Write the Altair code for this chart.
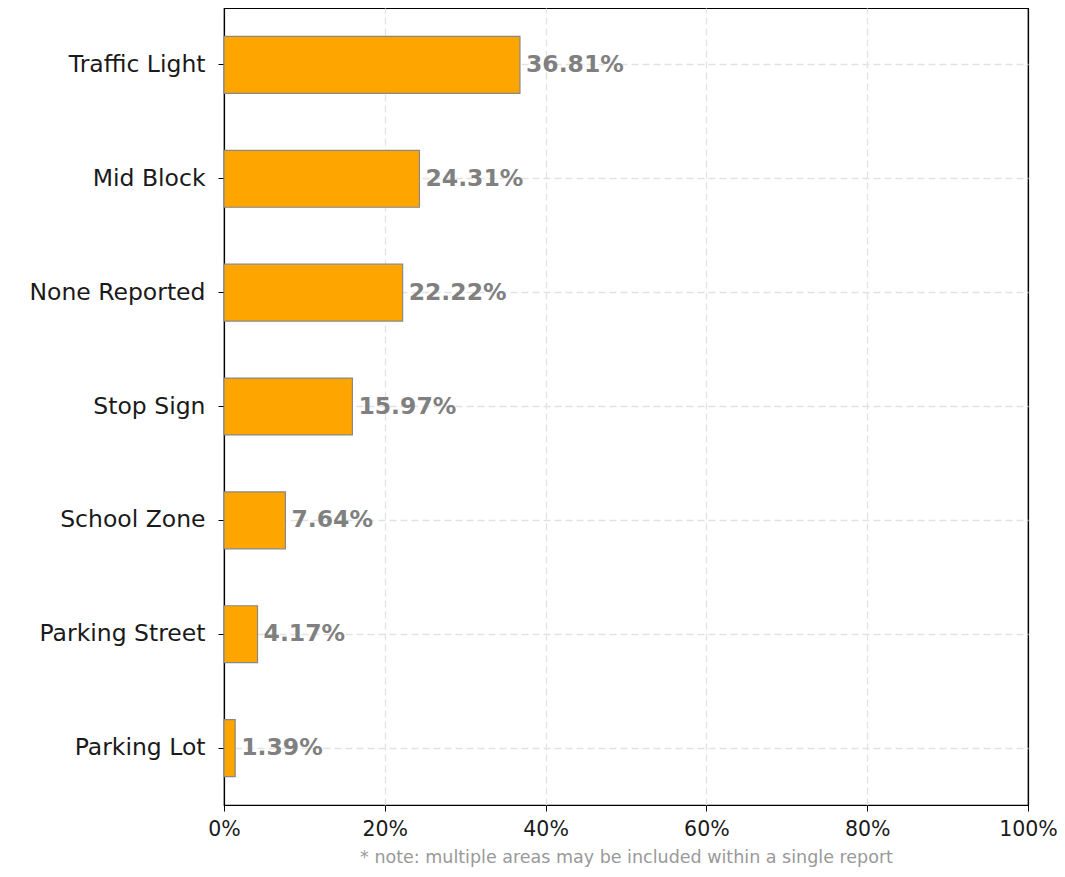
import altair as alt
import pandas as pd

categories = ["Traffic Light", "Mid Block", "None Reported", "Stop Sign",
              "School Zone", "Parking Street", "Parking Lot"]
values = [36.81, 24.31, 22.22, 15.97, 7.64, 4.17, 1.39]
x_ticks = [0, 20, 40, 60, 80, 100]
note = "* note: multiple areas may be included within a single report"

df = pd.DataFrame({"area": categories, "pct": values})

FONT = "DejaVu Sans"
EDGE = "datum.value === 0 || datum.value === 100"
GRID = "#e2e2e2"

y_enc = alt.Y(
    "area:N", sort=categories,
    scale=alt.Scale(paddingInner=0.5, paddingOuter=0.25),
    axis=alt.Axis(title=None, labelFontSize=23.5, labelColor="#1a1a1a",
                  labelFont=FONT, labelPadding=13, tickSize=6, tickColor="black",
                  domain=False, grid=True, gridDash=[7, 4], gridColor=GRID,
                  gridWidth=1.3, bandPosition=0.5),
)
x_enc = alt.X(
    "pct:Q",
    scale=alt.Scale(domain=[0, 100], nice=False),
    axis=alt.Axis(values=x_ticks, labelExpr="datum.value + '%'", labelFontSize=20.5,
                  labelColor="#1a1a1a", labelFont=FONT, labelPadding=8,
                  labelFlush=False, tickSize=6, tickColor="black", domain=False,
                  grid=True,
                  gridDash={"condition": {"test": EDGE, "value": []}, "value": [7, 4]},
                  gridColor={"condition": {"test": EDGE, "value": "black"}, "value": GRID},
                  gridWidth={"condition": {"test": EDGE, "value": 1.2}, "value": 1.3},
                  title=note, titleFont=FONT, titleFontSize=17.5,
                  titleFontWeight="normal", titleColor="#999999", titlePadding=9),
)

bars = alt.Chart(df).mark_bar(color="#FFA500", stroke="#888888", strokeWidth=1.2).encode(
    y=y_enc, x=x_enc
)

labels = alt.Chart(df).transform_calculate(
    label="format(datum.pct, '.2f') + '%'"
).mark_text(
    align="left", baseline="middle", dx=6, font=FONT, fontSize=23.5,
    fontWeight="bold", color="#808080"
).encode(
    y=alt.Y("area:N", sort=categories), x="pct:Q", text="label:N"
)

chart = alt.layer(bars, labels).properties(
    width=804, height=797,
    autosize=alt.AutoSizeParams(type="none"),
    padding={"left": 216, "top": 0, "right": 29, "bottom": 64},
).configure_view(stroke="black", strokeWidth=1.2)

chart.save("out.html", embed_options={"renderer": "svg", "actions": False})
